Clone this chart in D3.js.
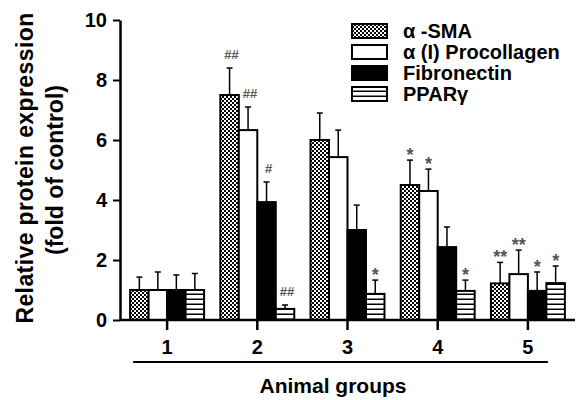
<!DOCTYPE html>
<html><head><meta charset="utf-8">
<script src="https://cdn.jsdelivr.net/npm/d3@7"></script>
<style>body{margin:0;background:#fff}text{font-family:"Liberation Sans",Arial,sans-serif;font-weight:bold}</style>
</head><body><svg id="c" width="583" height="400"></svg>
<script>
const groups = ["1","2","3","4","5"];
const series = ["α -SMA","α (I) Procollagen","Fibronectin","PPARγ"];
const sma      = [1.0, 7.5, 6.0, 4.5, 1.22];
const procoll  = [1.0, 6.33, 5.43, 4.3, 1.53];
const fibro    = [1.0, 3.93, 3.0, 2.43, 0.97];
const ppar     = [1.0, 0.37, 0.87, 0.97, 1.23];
const smaErr     = [0.43, 0.9, 0.9, 0.83, 0.7];
const procollErr = [0.6, 0.77, 0.9, 0.73, 0.8];
const fibroErr   = [0.5, 0.67, 0.83, 0.67, 0.63];
const pparErr    = [0.55, 0.13, 0.46, 0.36, 0.57];
const smaSig     = ["", "##", "", "*", "**"];
const procollSig = ["", "##", "", "*", "**"];
const fibroSig   = ["", "#", "", "", "*"];
const pparSig    = ["", "##", "*", "*", "*"];
const yTicks = [0,2,4,6,8,10];

const vals = [sma, procoll, fibro, ppar];
const errs = [smaErr, procollErr, fibroErr, pparErr];
const sigs = [smaSig, procollSig, fibroSig, pparSig];
const fills = ["url(#checker)", "#fff", "#000", "url(#stripes)"];

const svg = d3.select("#c");
const defs = svg.append("defs");
const chk = defs.append("pattern").attr("id","checker").attr("patternUnits","userSpaceOnUse")
  .attr("width",4).attr("height",4);
chk.append("rect").attr("width",4).attr("height",4).attr("fill","#000");
chk.append("rect").attr("width",2).attr("height",2).attr("fill","#fff");
chk.append("rect").attr("x",2).attr("y",2).attr("width",2).attr("height",2).attr("fill","#fff");
const st = defs.append("pattern").attr("id","stripes").attr("patternUnits","userSpaceOnUse")
  .attr("width",5).attr("height",5);
st.append("rect").attr("width",5).attr("height",5).attr("fill","#fff");
st.append("rect").attr("y",3.5).attr("width",5).attr("height",1.6).attr("fill","#000");

const x = d3.scaleBand().domain(groups).range([122,573]).paddingInner(0.18).paddingOuter(0.09);
const xs = d3.scaleBand().domain(series).range([0, x.bandwidth()]);
const y = d3.scaleLinear().domain([0,10]).range([320,20]);

const data = [];
groups.forEach((g,i)=>series.forEach((s,j)=>data.push({g,s,j,v:vals[j][i],e:errs[j][i],sig:sigs[j][i]})));

const bars = svg.append("g");
bars.selectAll("line.err").data(data).join("line")
  .attr("x1",d=>x(d.g)+xs(d.s)+xs.bandwidth()/2).attr("x2",d=>x(d.g)+xs(d.s)+xs.bandwidth()/2)
  .attr("y1",d=>y(d.v)).attr("y2",d=>y(d.v+d.e)).attr("stroke","#000").attr("stroke-width",1.5);
bars.selectAll("line.cap").data(data).join("line")
  .attr("x1",d=>x(d.g)+xs(d.s)+xs.bandwidth()/2-3).attr("x2",d=>x(d.g)+xs(d.s)+xs.bandwidth()/2+3)
  .attr("y1",d=>y(d.v+d.e)).attr("y2",d=>y(d.v+d.e)).attr("stroke","#000").attr("stroke-width",1.5);
bars.selectAll("rect").data(data).join("rect")
  .attr("x",d=>x(d.g)+xs(d.s)).attr("width",xs.bandwidth())
  .attr("y",d=>y(d.v)).attr("height",d=>y(0)-y(d.v))
  .attr("fill",d=>fills[d.j]).attr("stroke","#000").attr("stroke-width",2);
bars.selectAll("text").data(data.filter(d=>d.sig)).join("text")
  .attr("x",d=>x(d.g)+xs(d.s)+xs.bandwidth()/2+(d.sig.startsWith("#")?2:0))
  .attr("y",d=>y(d.v+d.e)-(d.sig.startsWith("#")?9:-1))
  .attr("text-anchor","middle").attr("fill","#555")
  .attr("font-size",d=>d.sig.startsWith("#")?13:18)
  .text(d=>d.sig);

// axes
const ya = svg.append("g").attr("transform","translate(120,0)")
  .call(d3.axisLeft(y).tickValues(yTicks).tickFormat(d3.format("d")).tickSize(7).tickPadding(6).tickSizeOuter(0));
ya.selectAll("text").attr("font-size",20).attr("fill","#000");
ya.selectAll("line").attr("stroke-width",2);
ya.select(".domain").attr("stroke-width",2.5);

const xa = svg.append("g").attr("transform","translate(0,320)")
  .call(d3.axisBottom(x).tickSize(10).tickPadding(10).tickSizeOuter(0));
xa.select(".domain").remove();
xa.selectAll("text").attr("font-size",20).attr("fill","#000");
xa.selectAll("line").attr("stroke-width",2.5);
svg.append("line").attr("x1",x.range()[0]-2).attr("x2",x.range()[1]+2)
  .attr("y1",y(0)).attr("y2",y(0)).attr("stroke","#000").attr("stroke-width",2.5);
svg.append("line").attr("x1",x(groups[0])+3).attr("x2",x(groups[4])+x.bandwidth()-17)
  .attr("y1",362).attr("y2",362).attr("stroke","#000").attr("stroke-width",2);
svg.append("text").attr("x",333).attr("y",393).attr("text-anchor","middle").attr("font-size",21).text("Animal groups");

svg.append("text").attr("transform","translate(33,168) rotate(-90)").attr("text-anchor","middle")
  .attr("font-size",23).attr("letter-spacing",0.4).text("Relative protein expression");
svg.append("text").attr("transform","translate(63,170) rotate(-90)").attr("text-anchor","middle")
  .attr("font-size",23).text("(fold of control)");

// legend
const lg = svg.append("g").attr("transform","translate(352,24)");
series.forEach((s,j)=>{
  const r = lg.append("g").attr("transform",`translate(0,${j*21})`);
  r.append("rect").attr("width",35).attr("height",14).attr("fill",fills[j]).attr("stroke","#000").attr("stroke-width",2);
  r.append("text").attr("x",51).attr("y",14).attr("font-size",20).text(s);
});
</script></body></html>
